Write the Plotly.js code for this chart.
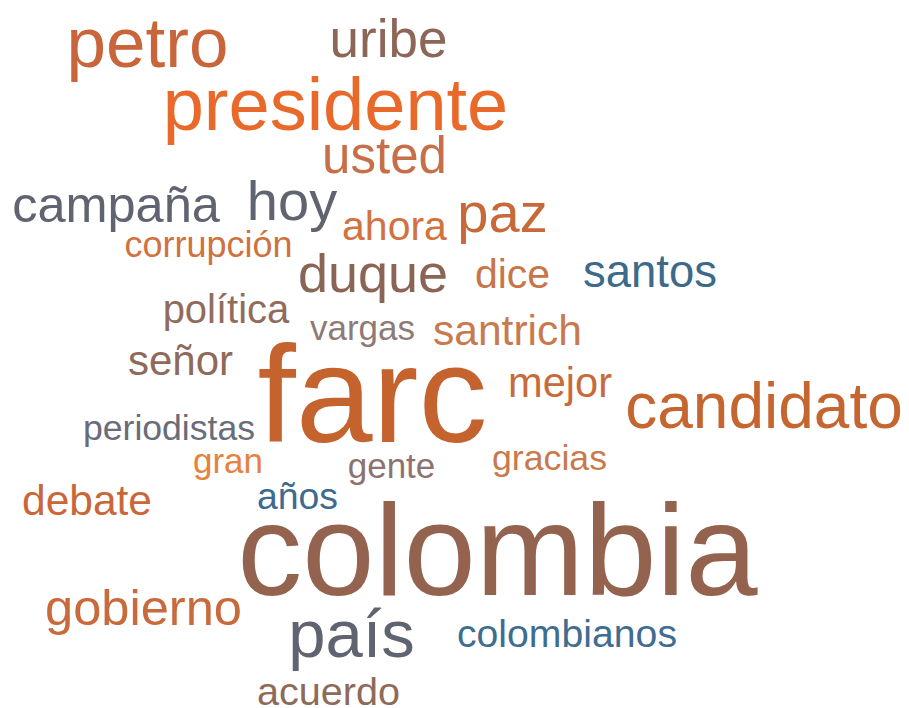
<!DOCTYPE html>
<html>
<head>
<meta charset="utf-8">
<script src="https://cdn.plot.ly/plotly-3.0.1.min.js"></script>
<style>html,body{margin:0;padding:0;background:#fff;}#chart{width:909px;height:708px;}</style>
</head>
<body>
<div id="chart"></div>
<script>
// Words and their relative weights (frequency score)
var words = ["petro","uribe","presidente","usted","campaña","hoy","ahora","paz","corrupción","duque",
             "dice","santos","política","vargas","santrich","señor","farc","mejor","candidato","periodistas",
             "gran","gente","gracias","debate","años","colombia","gobierno","país","colombianos","acuerdo"];
var weights = [71, 53, 74, 51, 50.5, 56, 41, 56, 36, 54,
               41, 45.5, 40, 35, 42.5, 42, 138, 41.6, 64, 35.6,
               35, 35, 35.7, 42.5, 37.4, 130, 50.6, 67, 39.2, 39.6];

// Layout of the cloud (word centre x, baseline y in pixels) — placement, not data
var placeX = [147.5, 388.5, 335.5, 384.5, 116, 292, 394.5, 502.5, 208.5, 373,
              512.5, 650, 226, 362.5, 507.5, 180.5, 372.5, 560, 764, 169,
              228, 391.5, 549.5, 87, 297.5, 497.5, 143.5, 351.5, 567, 328.5];
var placeBase = [67, 57, 130, 173, 222, 220, 240, 232, 257, 292,
                 288, 287, 323, 340, 345, 375, 442, 397, 428, 440,
                 473, 478, 470, 515, 509, 595, 625, 657, 647, 705];

var colors = ["#c8653a","#8c6656","#e8692a","#c66f48","#5f6470","#5f6470","#d2733f","#c8693a","#d0723f","#8a6555",
              "#c8754a","#3d6a8a","#916c5d","#8e7a76","#c87a4e","#8e6a5a","#c5632f","#c96a3a","#c5652f","#6a6c78",
              "#e6823d","#8d7370","#c87a4e","#c9673a","#3d6a8e","#94634f","#c86a3c","#5f6470","#3f6d90","#8e6a5a"];

var fontScale = 1.0;
var sizes = weights.map(function(w){ return w * fontScale; });
var ys = placeBase.map(function(b, i){ return b - 0.25 * sizes[i]; });

var trace = {
  type: "scatter",
  mode: "text",
  x: placeX,
  y: ys,
  text: words,
  textposition: "middle center",
  textfont: {family: "Liberation Sans, Arial, sans-serif", size: sizes, color: colors},
  hoverinfo: "skip",
  showlegend: false
};

var layout = {
  width: 909, height: 708,
  margin: {l: 0, r: 0, t: 0, b: 0},
  paper_bgcolor: "#ffffff", plot_bgcolor: "#ffffff",
  xaxis: {range: [0, 909], visible: false, fixedrange: true},
  yaxis: {range: [708, 0], visible: false, fixedrange: true},
  hovermode: false
};

Plotly.newPlot("chart", [trace], layout, {displayModeBar: false, staticPlot: true});
</script>
</body>
</html>
